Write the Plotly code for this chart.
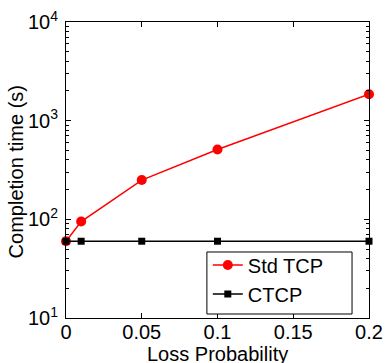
import plotly.graph_objects as go

# Loss probability vs. transfer completion time
loss_prob = [0, 0.01, 0.05, 0.1, 0.2]
std_tcp_time = [60, 95, 250, 510, 1850]
ctcp_time = [60, 60, 60, 60, 60]

x_ticks = [0, 0.05, 0.1, 0.15, 0.2]
x_tick_text = ["0", "0.05", "0.1", "0.15", "0.2"]
y_ticks = [10, 100, 1000, 10000]
y_tick_text = ["10<sup>1</sup>", "10<sup>2</sup>", "10<sup>3</sup>", "10<sup>4</sup>"]
y_minor = [m * d for d in (10, 100, 1000) for m in range(2, 10)]

x_title = "Loss Probability"
y_title = "Completion time (s)"

font_family = "Liberation Sans, Arial, sans-serif"

# legend frame, in paper coordinates of the plot area
leg_x0, leg_x1 = 0.465, 0.944
leg_y0, leg_y1 = 0.0135, 0.223

fig = go.Figure()
fig.add_trace(go.Scatter(
    x=loss_prob, y=std_tcp_time, name="Std TCP",
    mode="lines+markers",
    line=dict(color="#ff0000", width=1.5),
    marker=dict(symbol="circle", size=10, color="#ff0000"),
    cliponaxis=False,
))
fig.add_trace(go.Scatter(
    x=loss_prob, y=ctcp_time, name="CTCP",
    mode="lines+markers",
    line=dict(color="#000000", width=1.5),
    marker=dict(symbol="square", size=7, color="#000000"),
    cliponaxis=False,
))

fig.add_shape(
    type="rect", xref="paper", yref="paper",
    x0=leg_x0, x1=leg_x1, y0=leg_y0, y1=leg_y1,
    line=dict(color="black", width=1), fillcolor="white", layer="above",
)

# axis titles
fig.add_annotation(
    text=x_title, xref="paper", yref="paper", x=0.5, y=-0.12,
    xanchor="center", yanchor="middle", showarrow=False,
    font=dict(size=20),
)
fig.add_annotation(
    text=y_title, xref="paper", yref="paper", x=-0.162, y=0.495,
    xanchor="center", yanchor="middle", showarrow=False, textangle=-90,
    font=dict(size=20),
)

fig.update_layout(
    width=386, height=363,
    margin=dict(l=66, r=17, t=22, b=45, autoexpand=False),
    paper_bgcolor="white", plot_bgcolor="white",
    font=dict(family=font_family, size=20, color="black"),
    showlegend=True,
    legend=dict(
        x=leg_x0 + 0.003, y=leg_y1 + 0.022, xanchor="left", yanchor="top",
        bgcolor="rgba(0,0,0,0)", borderwidth=0,
        font=dict(size=20), tracegroupgap=0,
    ),
)
fig.update_xaxes(
    range=[0, 0.2], tickmode="array", tickvals=x_ticks, ticktext=x_tick_text,
    ticks="inside", ticklen=5, tickcolor="black", tickwidth=1,
    ticklabelstandoff=-4, automargin=False,
    showline=True, linecolor="black", linewidth=1, mirror="allticks",
    showgrid=False, zeroline=False,
    tickfont=dict(size=20),
)
fig.update_yaxes(
    type="log", range=[1, 4], tickmode="array", tickvals=y_ticks, ticktext=y_tick_text,
    ticks="inside", ticklen=5, tickcolor="black", tickwidth=1,
    ticklabelstandoff=3, automargin=False,
    minor=dict(tickmode="array", tickvals=y_minor, ticks="inside", ticklen=3,
               tickcolor="black", tickwidth=1, showgrid=False),
    showline=True, linecolor="black", linewidth=1, mirror="allticks",
    showgrid=False, zeroline=False,
    tickfont=dict(size=20),
)

fig.write_html("out.html")
